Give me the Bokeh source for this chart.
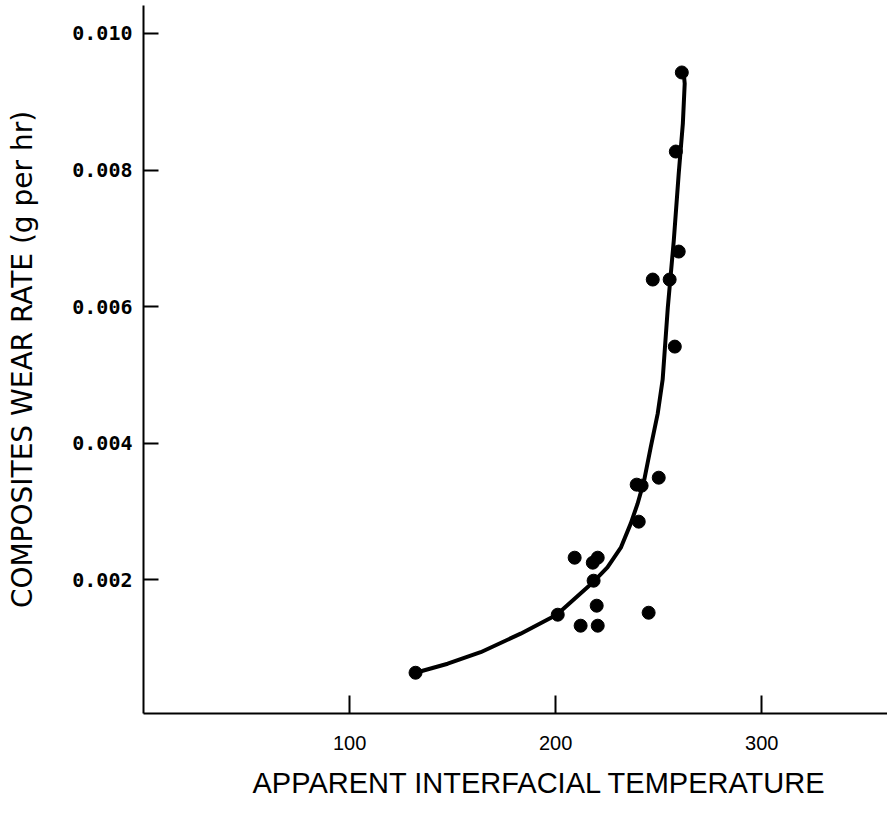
from bokeh.plotting import figure
from bokeh.models import Range1d, FixedTicker, NumeralTickFormatter, Title
from bokeh.embed import file_html
from bokeh.resources import INLINE

# Measured points: apparent interfacial temperature vs composites wear rate (g per hr)
temp_points = [132.0, 201.0, 209.2, 212.1, 218.0, 220.4, 218.4, 219.9, 220.4, 245.1,
               239.3, 241.7, 240.3, 250.0, 247.1, 255.3, 257.8, 259.7, 258.3, 261.2]
wear_points = [0.000637, 0.001487, 0.002322, 0.001326, 0.002249, 0.002322, 0.001985,
               0.001619, 0.001326, 0.001516, 0.003392, 0.003377, 0.002850, 0.003494,
               0.006396, 0.006396, 0.005414, 0.006806, 0.008271, 0.009429]

# Drawn trend curve
curve_temp = [132.0, 147.6, 163.6, 183.0, 200.5, 218.4, 225.1, 231.6, 236.4, 239.7,
              242.9, 246.1, 249.5, 251.9, 254.4, 257.3, 259.7, 261.7, 262.6, 262.1]
curve_wear = [0.000637, 0.000769, 0.000938, 0.001209, 0.001487, 0.001971, 0.002180,
              0.002469, 0.002821, 0.003109, 0.003450, 0.003939, 0.004432, 0.004931,
              0.005986, 0.006967, 0.007949, 0.008681, 0.009267, 0.009429]

x_ticks = [100, 200, 300]
y_ticks = [0.002, 0.004, 0.006, 0.008, 0.010]
x_title = "APPARENT INTERFACIAL TEMPERATURE"
y_title = "COMPOSITES WEAR RATE (g per hr)"

p = figure(width=887, height=816, output_backend="svg", toolbar_location=None,
           x_range=Range1d(0, 361), y_range=Range1d(0.00004, 0.01041),
           min_border_left=143, min_border_right=0, min_border_top=5,
           min_border_bottom=103)
p.outline_line_color = None
p.grid.visible = False
p.background_fill_color = "white"
p.border_fill_color = "white"

p.line(curve_temp, curve_wear, line_color="black", line_width=4,
       line_join="round", line_cap="round")
p.scatter(temp_points, wear_points, size=13, fill_color="black", line_color="black")

xa = p.xaxis[0]
xa.ticker = FixedTicker(ticks=x_ticks)
xa.axis_line_width = 2
xa.major_tick_in = 18
xa.major_tick_out = 0
xa.major_tick_line_width = 2
xa.minor_tick_line_color = None
xa.major_label_text_font = "Liberation Sans"
xa.major_label_text_font_size = "20px"
xa.major_label_text_color = "black"
xa.major_label_standoff = 22

ya = p.yaxis[0]
ya.ticker = FixedTicker(ticks=y_ticks)
ya.formatter = NumeralTickFormatter(format="0.000")
ya.axis_line_width = 2
ya.major_tick_in = 15
ya.major_tick_out = 0
ya.major_tick_line_width = 2
ya.minor_tick_line_color = None
ya.major_label_text_font = "DejaVu Sans Mono"
ya.major_label_text_font_style = "bold"
ya.major_label_text_font_size = "20px"
ya.major_label_text_color = "black"
ya.major_label_standoff = 11
ya.axis_label = y_title
ya.axis_label_text_font = "DejaVu Sans"
ya.axis_label_text_font_style = "normal"
ya.axis_label_text_font_size = "28px"
ya.axis_label_text_color = "black"
ya.axis_label_standoff = 30

# X title as a side title so it can be shifted right as in the original
p.add_layout(Title(text=x_title, align="left", offset=109, standoff=25,
                   text_font="Liberation Sans", text_font_size="29px",
                   text_font_style="normal", text_color="black"), "below")

open("out.html", "w").write(file_html(p, INLINE))
